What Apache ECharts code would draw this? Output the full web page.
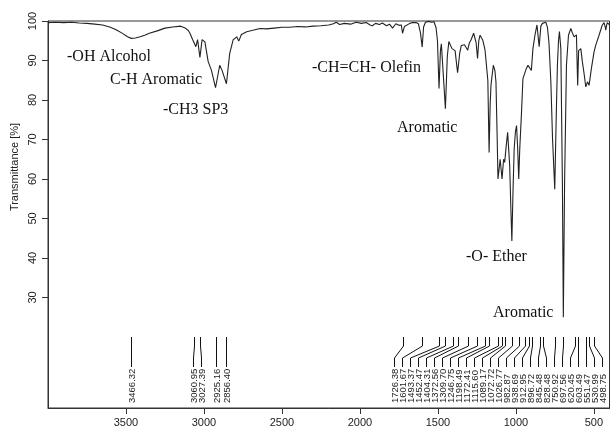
<!DOCTYPE html>
<html>
<head>
<meta charset="utf-8">
<script src="https://cdn.jsdelivr.net/npm/echarts@6/dist/echarts.min.js"></script>
<style>
  html, body { margin: 0; padding: 0; background: #fff; }
  #chart { width: 611px; height: 434px; }
</style>
</head>
<body>
<div id="chart"></div>
<script>
// IR spectrum, wavenumber in cm-1 and transmittance in %
var waveNumbers = [
  4000, 3950, 3900, 3850, 3800, 3750, 3700, 3650, 3600, 3560, 3520, 3490, 3466, 3440, 3410, 3380,
  3350, 3300, 3250, 3200, 3150, 3120, 3100, 3090, 3073, 3063, 3052, 3041, 3026, 3012, 2994, 2973,
  2952, 2926, 2899, 2884, 2856, 2835, 2813, 2790, 2777, 2760, 2726, 2680, 2640, 2600, 2550, 2500,
  2450, 2400, 2350, 2300, 2250, 2200, 2170, 2152, 2130, 2100, 2060, 2024, 1990, 1960, 1935, 1920,
  1900, 1875, 1856, 1830, 1810, 1791, 1770, 1750, 1735, 1727, 1715, 1704, 1680, 1663, 1640, 1625,
  1612, 1601, 1592, 1580, 1560, 1540, 1525, 1512, 1503, 1493, 1484, 1478, 1466, 1452, 1440, 1430,
  1422, 1410, 1402, 1390, 1374, 1360, 1350, 1341, 1330, 1320, 1309, 1298, 1288, 1271, 1262, 1255,
  1246, 1238, 1230, 1213, 1205, 1198, 1188, 1180, 1172, 1165, 1160, 1145, 1135, 1128, 1121, 1115,
  1101, 1089, 1079, 1072, 1062, 1053, 1040, 1032, 1026, 1018, 1011, 1003, 996, 989, 982, 975,
  965, 955, 944, 933, 923, 912, 901, 891, 878, 865, 851, 840, 830, 820, 808, 798,
  788, 776, 765, 751, 742, 734, 727, 721, 712, 702, 696, 688, 676, 663, 648, 638,
  627, 620, 612, 604, 598, 590, 584, 574, 563, 552, 541, 531, 516, 499, 488, 467,
  446, 435, 428, 424, 418, 414, 405, 400
];
var transmittance = [
  99.6, 99.7, 99.6, 99.7, 99.5, 99.4, 99.2, 99.0, 98.4, 97.7, 96.8, 96.0, 95.6, 95.7, 96.0, 96.4,
  96.9, 97.5, 98.2, 98.5, 98.7, 98.2, 97.6, 96.9, 95.3, 95.8, 93.5, 95.3, 90.8, 95.3, 94.7, 89.7,
  87.5, 83.1, 88.8, 87.5, 84.1, 91.8, 95.2, 96.0, 94.9, 96.6, 97.3, 97.7, 98.1, 98.0, 98.2, 98.4,
  98.4, 98.6, 98.5, 98.7, 98.8, 99.0, 99.3, 99.7, 99.1, 99.4, 99.2, 99.7, 99.4, 99.6, 99.0, 98.8,
  99.4, 99.1, 99.5, 98.8, 99.2, 98.2, 99.3, 98.9, 99.0, 96.9, 98.6, 99.0, 99.4, 99.6, 99.6, 99.3,
  97.0, 93.4, 98.5, 99.7, 99.9, 99.7, 99.8, 98.3, 95.0, 82.9, 92.5, 94.2, 93.8, 77.8, 91.0, 94.8,
  95.2, 93.0, 93.5, 92.5, 86.9, 91.9, 93.8, 94.3, 94.0, 93.9, 92.6, 94.5, 95.2, 96.9, 96.4, 94.5,
  90.5, 95.0, 96.4, 95.2, 93.9, 92.6, 92.8, 85.0, 66.7, 79.0, 83.7, 88.8, 87.5, 84.6, 72.0, 60.0,
  65.0, 60.0, 65.0, 64.2, 68.5, 71.8, 63.4, 52.0, 44.3, 58.0, 67.7, 72.0, 73.5, 68.0, 60.0, 68.0,
  76.1, 85.4, 85.8, 88.0, 88.8, 88.6, 87.5, 93.0, 96.4, 99.0, 93.5, 98.7, 99.4, 99.6, 99.7, 98.4,
  94.5, 84.6, 70.0, 57.4, 75.0, 88.8, 95.0, 97.3, 93.0, 59.0, 25.0, 59.0, 88.8, 96.4, 98.1, 97.0,
  96.0, 95.5, 96.5, 83.7, 92.5, 93.0, 93.0, 89.7, 86.7, 83.3, 84.6, 83.7, 88.0, 92.2, 93.9, 96.4,
  99.0, 99.6, 98.6, 97.7, 99.0, 99.6, 99.3, 99.0
];
var peakPositions = [
  3466.32, 3060.95, 3027.39, 2925.16, 2856.40,
  1726.38, 1601.67, 1493.37, 1452.47, 1404.31, 1372.56, 1309.70, 1246.75, 1198.49, 1172.41,
  1115.60, 1089.17, 1072.72, 1026.77, 982.87, 938.69, 912.95, 896.72, 845.48, 828.48,
  750.92, 697.56, 620.45, 603.49, 551.47, 530.99, 498.75
];
var xTicks = [500, 1000, 1500, 2000, 2500, 3000, 3500];
var yTicks = [30, 40, 50, 60, 70, 80, 90, 100];

var chart = echarts.init(document.getElementById('chart'));

// spread peak labels so they keep a minimum gap, groups centred on their peaks
function spreadLabels(xs, gap) {
  var order = xs.map(function (x, i) { return i; }).sort(function (a, b) { return xs[a] - xs[b]; });
  var groups = order.map(function (i) { return { items: [i], lo: xs[i], hi: xs[i] }; });
  var changed = true;
  while (changed) {
    changed = false;
    for (var k = 0; k < groups.length - 1; k++) {
      var a = groups[k], b = groups[k + 1];
      var aEnd = (a.lo + a.hi) / 2 + (a.items.length - 1) * gap / 2;
      var bStart = (b.lo + b.hi) / 2 - (b.items.length - 1) * gap / 2;
      if (bStart - aEnd < gap) {
        a.items = a.items.concat(b.items);
        a.hi = b.hi;
        groups.splice(k + 1, 1);
        changed = true;
        break;
      }
    }
  }
  var out = [];
  groups.forEach(function (g) {
    var start = (g.lo + g.hi) / 2 - (g.items.length - 1) * gap / 2;
    g.items.forEach(function (i, j) { out[i] = start + j * gap; });
  });
  return out;
}

function peakLabel(params, api) {
  var cs = params.coordSys;
  var bottom = cs.y + cs.height;
  var xs = peakPositions.map(function (v) { return api.coord([v, 50])[0]; });
  var pos = spreadLabels(xs, 8);
  var i = params.dataIndex;
  var px = Math.round(xs[i]) + 0.5;
  var lx = Math.round(pos[i]) + 0.5;
  return {
    type: 'group',
    children: [{
      type: 'polyline',
      shape: { points: [[px, bottom - 71], [px, bottom - 62], [lx, bottom - 50], [lx, bottom - 41]] },
      style: { stroke: '#111', lineWidth: 1, fill: null }
    }, {
      type: 'text',
      x: lx + 0.5,
      y: bottom - 5,
      rotation: Math.PI / 2,
      style: {
        text: peakPositions[i].toFixed(2),
        fill: '#222',
        font: '9.5px "Liberation Sans", Arial, sans-serif',
        align: 'left',
        verticalAlign: 'middle'
      }
    }]
  };
}

var serif = '16px "Liberation Serif", "Times New Roman", serif';
function note(text, x, y) {
  return { type: 'text', x: x, y: y, style: { text: text, font: serif, fill: '#111', verticalAlign: 'middle' } };
}

function plain(v) { return String(v); }

chart.setOption({
  animation: false,
  grid: { left: 48, right: 1.5, top: 21, bottom: 26, show: true, borderColor: '#333', borderWidth: 1 },
  xAxis: {
    type: 'value',
    min: 400,
    max: 4000,
    inverse: true,
    axisLine: { show: true, onZero: false, lineStyle: { color: '#333' } },
    axisTick: { show: true, length: 6, customValues: xTicks, lineStyle: { color: '#333' } },
    axisLabel: { customValues: xTicks, formatter: plain, margin: 9, fontSize: 11, color: '#222', fontFamily: '"Liberation Sans", Arial, sans-serif' },
    splitLine: { show: false }
  },
  yAxis: {
    type: 'value',
    min: 2,
    max: 100,
    axisLine: { show: true, lineStyle: { color: '#333' } },
    axisTick: { show: true, length: 6, customValues: yTicks, lineStyle: { color: '#333' } },
    axisLabel: { customValues: yTicks, formatter: plain, rotate: 90, margin: 10, fontSize: 11, color: '#222', fontFamily: '"Liberation Sans", Arial, sans-serif' },
    splitLine: { show: false }
  },
  graphic: [
    {
      type: 'text', x: 15, y: 167, rotation: Math.PI / 2,
      style: { text: 'Transmittance [%]', font: '11px "Liberation Sans", Arial, sans-serif', fill: '#222', align: 'center', verticalAlign: 'middle' }
    },
    note('-OH Alcohol', 67, 57),
    note('C-H Aromatic', 110, 80),
    note('-CH3 SP3', 163, 110),
    note('-CH=CH- Olefin', 312, 68),
    note('Aromatic', 397, 128),
    note('-O- Ether', 466, 257),
    note('Aromatic', 493, 313)
  ],
  series: [{
    type: 'line',
    data: waveNumbers.map(function (w, i) { return [w, transmittance[i]]; }),
    showSymbol: false,
    lineStyle: { color: '#222', width: 1.1 },
    silent: true
  }, {
    type: 'custom',
    renderItem: peakLabel,
    data: peakPositions.map(function (v) { return [v, 50]; }),
    encode: { x: 0, y: 1 },
    silent: true
  }]
});
</script>
</body>
</html>
